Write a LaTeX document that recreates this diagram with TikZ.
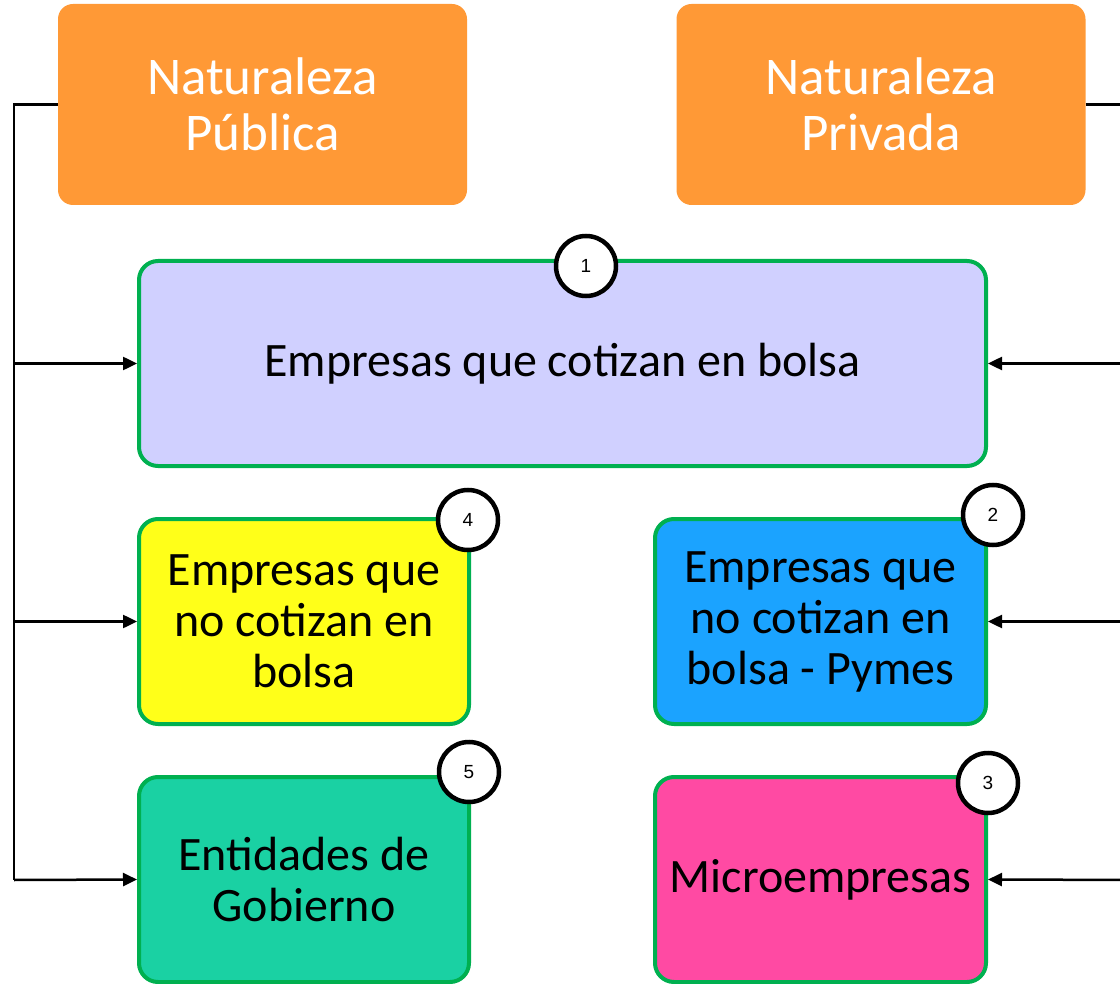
\documentclass[tikz,border=0pt]{standalone}
\usepackage{fontspec}
\setmainfont{Carlito}
\newfontfamily\numfont{Liberation Sans}
\usetikzlibrary{arrows.meta}
\definecolor{orangebox}{RGB}{255,153,54}
\definecolor{greenline}{RGB}{0,176,80}
\definecolor{lavender}{RGB}{208,208,255}
\definecolor{yellowbox}{RGB}{255,255,25}
\definecolor{bluebox}{RGB}{27,163,255}
\definecolor{tealbox}{RGB}{26,209,163}
\definecolor{pinkbox}{RGB}{255,74,163}
\tikzset{
  headbox/.style={fill=orangebox, rounded corners=15pt, minimum width=409pt, minimum height=201pt,
    inner sep=0pt, text=white, align=center, font=\fontsize{53}{56}\selectfont},
  catbox/.style={draw=greenline, line width=4pt, rounded corners=19pt, minimum height=205pt,
    inner sep=0pt, align=center, font=\fontsize{48}{51}\selectfont},
  numcircle/.style={circle, draw=black, line width=4.5pt, fill=white, minimum size=60pt,
    inner sep=0pt, font=\numfont\fontsize{19}{21}\selectfont},
  conn/.style={line width=2.5pt, draw=black},
  arr/.style={conn, -{Triangle[length=14pt,width=13pt]}}
}
\begin{document}
\begin{tikzpicture}[x=1pt,y=-1pt]
\useasboundingbox (0,0) rectangle (1120,984);
% header boxes
\node[headbox] (pub) at (262.5,104.5) {Naturaleza\\Pública};
\node[headbox] (priv) at (881,104.5) {Naturaleza\\Privada};
% category boxes
\node[catbox, fill=lavender, minimum width=847pt] (b1) at (562.5,363.5) {Empresas que cotizan en bolsa};
\node[catbox, fill=yellowbox, minimum width=330pt] (b4) at (304,621.5) {Empresas que\\no cotizan en\\bolsa};
\node[catbox, fill=bluebox, minimum width=331pt] (b2) at (820.5,621.5) {Empresas que\\no cotizan en\\bolsa - Pymes};
\node[catbox, fill=tealbox, minimum width=330pt] (b5) at (304,879.5) {Entidades de\\Gobierno};
\node[catbox, fill=pinkbox, minimum width=331pt] (b3) at (820.5,879.5) {Microempresas};
% number circles
\node[numcircle] (n1) at (586,266) {1};
\node[numcircle] (n4) at (468,520) {4};
\node[numcircle] (n2) at (993,515) {2};
\node[numcircle] (n5) at (469,772) {5};
\node[numcircle] (n3) at (988,783) {3};
% left connectors
\coordinate (lb) at (14,880);
\draw[conn] (pub.west) -| (lb);
\draw[arr] (lb |- b1.west) -- (b1.west);
\draw[arr] (lb |- b4.west) -- (b4.west);
\draw[arr] (lb) -- (b5.west);
% right connectors
\coordinate (rb) at (1140,880);
\draw[conn] (priv.east) -| (rb);
\draw[arr] (rb |- b1.east) -- (b1.east);
\draw[arr] (rb |- b2.east) -- (b2.east);
\draw[arr] (rb) -- (b3.east);
\end{tikzpicture}
\end{document}
